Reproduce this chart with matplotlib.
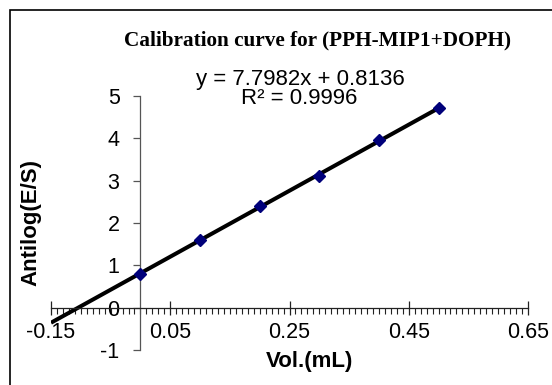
import numpy as np
import matplotlib
matplotlib.use("Agg")
from matplotlib import pyplot as plt
from matplotlib.patches import Rectangle
from matplotlib.ticker import MultipleLocator, FixedLocator

#%% data
vol = [0.0, 0.1, 0.2, 0.3, 0.4, 0.5]
antilog = [0.80, 1.60, 2.40, 3.10, 3.95, 4.72]
slope, intercept = 7.7982, 0.8136
line_x = [-0.15, 0.5]
x_ticks = [-0.15, 0.05, 0.25, 0.45, 0.65]
x_ticklabels = ["-0.15", "0.05", "0.25", "0.45", "0.65"]
y_ticks = [-1, 0, 1, 2, 3, 4, 5]

#%% plot
plt.rcParams["font.family"] = ["Liberation Sans", "DejaVu Sans"]
plt.rcParams["axes.unicode_minus"] = False
W, H = 552, 385
fig = plt.figure(figsize=(W / 100, H / 100), dpi=100)
ax = fig.add_axes([51 / W, 1 - 350 / H, (528 - 51) / W, (350 - 96) / H])

line_y = [slope * v + intercept for v in line_x]
ax.plot(line_x, line_y, color="black", lw=2.9, solid_capstyle="butt", zorder=2)
ax.plot(vol, antilog, ls="none", marker="D", ms=6, color="#00007a", zorder=3)

ax.set_xlim(-0.15, 0.65)
ax.set_ylim(-1, 5)
for s in ["top", "right"]:
    ax.spines[s].set_visible(False)
ax.spines["left"].set_position(("data", 0))
ax.spines["bottom"].set_position(("data", 0))
ax.spines["left"].set_color("#555555")
ax.spines["bottom"].set_color("#222222")
ax.spines["left"].set_linewidth(0.9)
ax.spines["bottom"].set_linewidth(0.9)

ax.xaxis.set_major_locator(FixedLocator(x_ticks))
ax.set_xticklabels(x_ticklabels)
ax.xaxis.set_minor_locator(MultipleLocator(0.01))
ax.set_yticks(y_ticks)
ax.tick_params(axis="x", which="major", direction="inout", length=10, width=0.9,
               color="#222222", labelsize=15.5, pad=5)
ax.tick_params(axis="x", which="minor", direction="out", length=4.5, width=0.8,
               color="#222222")
ax.tick_params(axis="y", which="major", direction="out", length=5, width=0.9,
               color="#555555", labelsize=15.5, pad=10)

ax.set_facecolor("none")
fig.text(317 / W, 1 - 40 / H, "Calibration curve for (PPH-MIP1+DOPH)",
         family=["Liberation Serif", "DejaVu Serif"], weight="bold",
         fontsize=15.3, ha="center", va="center")
fig.text(300 / W, 1 - 79 / H, "y = 7.7982x + 0.8136", fontsize=16,
         ha="center", va="center")
fig.text(299 / W, 1 - 99 / H, "R² = 0.9996", fontsize=16,
         ha="center", va="center")
fig.text(310 / W, 1 - 362 / H, "Vol.(mL)", fontsize=16, weight="bold",
         ha="center", va="center")
fig.text(31 / W, 1 - 222 / H, "Antilog(E/S)", fontsize=16, weight="bold",
         ha="center", va="center", rotation=90)

fig.patches.append(Rectangle((10 / W, -0.1), 1.2, 1 - 10 / H + 0.1,
                             transform=fig.transFigure, fill=False,
                             edgecolor="black", lw=1.2))

fig.savefig("out.png", dpi=100)
